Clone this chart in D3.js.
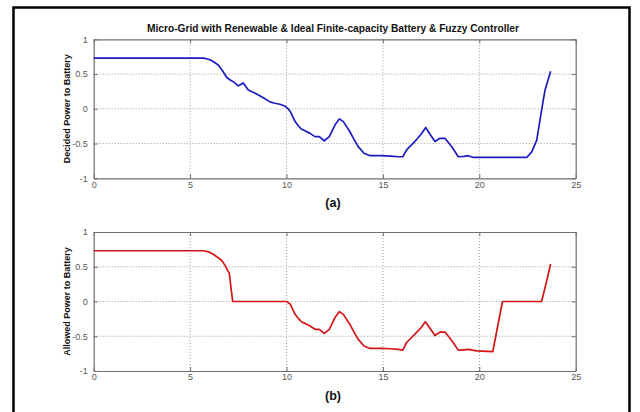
<!DOCTYPE html>
<html>
<head>
<meta charset="utf-8">
<script src="https://cdn.jsdelivr.net/npm/d3@7"></script>
<style>
  html, body { margin: 0; padding: 0; background: #fff; }
  svg { display: block; font-family: "Liberation Sans", Arial, sans-serif; }
</style>
</head>
<body>
<svg id="chart" width="640" height="412"></svg>
<script>
// Hour of day and power set-point decided by the fuzzy controller (p.u.)
const decidedHours = [0, 5.7, 6.0, 6.2, 6.46, 6.7, 6.9, 7.1, 7.24, 7.5, 7.62, 7.76, 8.02, 8.4, 8.8, 9.14, 9.4, 9.66, 9.9, 10.05,
  10.2, 10.44, 10.6, 10.79, 10.96, 11.2, 11.48, 11.7, 11.96, 12.22, 12.52, 12.74, 12.95, 13.29, 13.5, 13.72, 14.02, 14.33,
  14.94, 15.4, 15.8, 16.03, 16.23, 16.66, 17.0, 17.22, 17.45, 17.7, 17.96, 18.22, 18.57, 18.91, 19.2, 19.43, 19.69, 20.5,
  21.07, 22.46, 22.72, 22.98, 23.15, 23.32, 23.41, 23.55, 23.7];
const decidedPower = [0.73, 0.73, 0.71, 0.68, 0.63, 0.54, 0.45, 0.41, 0.39, 0.33, 0.35, 0.37, 0.27, 0.22, 0.16, 0.10, 0.08, 0.065, 0.04, 0.01,
  -0.04, -0.18, -0.24, -0.295, -0.315, -0.35, -0.40, -0.40, -0.46, -0.40, -0.23, -0.145, -0.185, -0.33, -0.44, -0.545, -0.64, -0.675,
  -0.675, -0.68, -0.69, -0.69, -0.59, -0.47, -0.36, -0.27, -0.37, -0.47, -0.425, -0.425, -0.545, -0.69, -0.685, -0.675, -0.70, -0.70,
  -0.70, -0.70, -0.62, -0.45, -0.16, 0.13, 0.27, 0.40, 0.54];

// Power actually allowed into the finite-capacity battery (p.u.)
const allowedHours = [0, 5.7, 6.0, 6.2, 6.46, 6.64, 6.81, 6.98, 7.03, 7.12, 7.21, 10.0,
  10.2, 10.44, 10.6, 10.79, 10.96, 11.2, 11.48, 11.7, 11.96, 12.22, 12.52, 12.74, 12.95, 13.29, 13.5, 13.72, 14.02, 14.33,
  14.94, 15.4, 15.8, 16.03, 16.23, 16.66, 17.0, 17.2, 17.45, 17.7, 17.96, 18.22, 18.57, 18.91, 19.2, 19.43, 19.86, 20.7,
  21.2, 23.23, 23.5, 23.7];
const allowedPower = [0.73, 0.73, 0.71, 0.68, 0.63, 0.59, 0.52, 0.43, 0.41, 0.2, 0, 0,
  -0.04, -0.18, -0.24, -0.295, -0.315, -0.35, -0.40, -0.40, -0.46, -0.40, -0.23, -0.145, -0.185, -0.33, -0.44, -0.545, -0.64, -0.675,
  -0.675, -0.68, -0.69, -0.70, -0.59, -0.47, -0.37, -0.29, -0.39, -0.49, -0.44, -0.44, -0.56, -0.70, -0.695, -0.69, -0.71, -0.72,
  0, 0, 0.3, 0.54];

const xTicks = [0, 5, 10, 15, 20, 25];
const yTicks = [-1, -0.5, 0, 0.5, 1];

const chartTitle = "Micro-Grid with Renewable & Ideal Finite-capacity Battery & Fuzzy Controller";
const panels = [
  { hours: decidedHours, power: decidedPower, ylabel: "Decided Power to Battery", tag: "(a)", color: "#1c1cc4", top: 39.3 },
  { hours: allowedHours, power: allowedPower, ylabel: "Allowed Power to Battery", tag: "(b)", color: "#d41515", top: 232 }
];

const svg = d3.select("#chart");
const left = 93.7, right = 575.7, plotH = 139;

// outer figure frame
svg.append("rect")
  .attr("x", 13.5).attr("y", 7.5)
  .attr("width", 616).attr("height", 420)
  .attr("fill", "#fff").attr("stroke", "#000").attr("stroke-width", 2.5);

svg.append("text")
  .attr("x", 333).attr("y", 32)
  .attr("text-anchor", "middle")
  .attr("font-size", 10.2).attr("font-weight", "bold").attr("fill", "#111")
  .text(chartTitle);

const x = d3.scaleLinear().domain([0, 25]).range([left, right]);
const plainNum = d => String(d);   // plain hyphen for negatives

panels.forEach(p => {
  const y = d3.scaleLinear().domain([-1, 1]).range([p.top + plotH, p.top]);
  const g = svg.append("g");

  // dotted grid
  g.selectAll(".vg").data(xTicks.slice(1, -1)).join("line")
    .attr("x1", d => x(d)).attr("x2", d => x(d))
    .attr("y1", y(-1)).attr("y2", y(1))
    .attr("stroke", "#9a9a9a").attr("stroke-width", 1).attr("stroke-dasharray", "1,2");
  g.selectAll(".hg").data(yTicks.slice(1, -1)).join("line")
    .attr("x1", x(0)).attr("x2", x(25))
    .attr("y1", d => y(d)).attr("y2", d => y(d))
    .attr("stroke", "#9a9a9a").attr("stroke-width", 1).attr("stroke-dasharray", "1,2");

  // axes with inward ticks
  const axB = g.append("g").attr("transform", `translate(0,${y(-1)})`)
    .call(d3.axisBottom(x).tickValues(xTicks).tickSizeInner(-4).tickSizeOuter(0).tickFormat(plainNum));
  const axT = g.append("g").attr("transform", `translate(0,${y(1)})`)
    .call(d3.axisTop(x).tickValues(xTicks).tickSizeInner(-4).tickSizeOuter(0).tickFormat(""));
  const axL = g.append("g").attr("transform", `translate(${x(0)},0)`)
    .call(d3.axisLeft(y).tickValues(yTicks).tickSizeInner(-4).tickSizeOuter(0).tickPadding(6).tickFormat(plainNum));
  const axR = g.append("g").attr("transform", `translate(${x(25)},0)`)
    .call(d3.axisRight(y).tickValues(yTicks).tickSizeInner(-4).tickSizeOuter(0).tickFormat(""));
  [axB, axT, axL, axR].forEach(a => {
    a.select(".domain").attr("stroke", "#6e6e6e").attr("stroke-width", 1.2);
    a.selectAll(".tick line").attr("stroke", "#6e6e6e");
    a.selectAll("text").attr("font-family", "'Liberation Sans', Arial, sans-serif")
      .attr("font-size", 9).attr("fill", "#555");
  });
  axB.selectAll("text").attr("dy", "0.71em").attr("y", 3);

  // data curve
  const line = d3.line().x((d, i) => x(p.hours[i])).y(d => y(d));
  g.append("path").datum(p.power)
    .attr("d", line)
    .attr("fill", "none").attr("stroke", p.color).attr("stroke-width", 1.7)
    .attr("stroke-linejoin", "round");

  // y-axis label
  g.append("text")
    .attr("transform", `translate(69.5,${(y(1) + y(-1)) / 2}) rotate(-90)`)
    .attr("text-anchor", "middle")
    .attr("font-size", 9).attr("font-weight", "bold").attr("fill", "#111")
    .text(p.ylabel);

  // panel tag
  g.append("text")
    .attr("x", 333).attr("y", y(-1) + 28.5)
    .attr("text-anchor", "middle")
    .attr("font-size", 12.5).attr("font-weight", "bold").attr("fill", "#111")
    .text(p.tag);
});
</script>
</body>
</html>
